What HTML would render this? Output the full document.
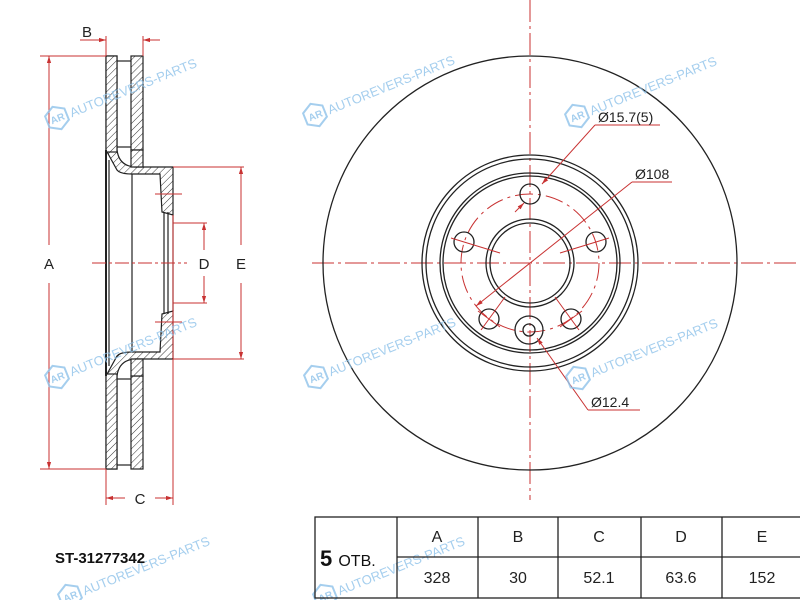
<!DOCTYPE html>
<html><head><meta charset="utf-8"><style>
html,body{margin:0;padding:0;background:#fff;width:800px;height:600px;overflow:hidden;}
svg{display:block;font-family:"Liberation Sans",Arial,sans-serif;overflow:hidden;}
</style></head><body>
<svg width="800" height="600" viewBox="0 0 800 600" xmlns="http://www.w3.org/2000/svg">
<defs>
<pattern id="h" width="5" height="5" patternUnits="userSpaceOnUse" patternTransform="rotate(45)">
<rect width="5" height="5" fill="#fff"/><line x1="0" y1="0" x2="0" y2="5" stroke="#333" stroke-width="1"/>
</pattern>
<marker id="ar" viewBox="0 0 10 10" refX="10" refY="5" markerWidth="7" markerHeight="7" orient="auto-start-reverse">
<path d="M0,2 L10,5 L0,8 z" fill="#c83232"/></marker>
<g id="wm" fill="none" stroke="#8fc3ea" stroke-width="2" opacity="0.8">
<polygon points="0,-12 10.4,-6 10.4,6 0,12 -10.4,6 -10.4,-6"/>
<text x="-7" y="4" font-size="10" fill="#8fc3ea" stroke="none" font-weight="bold">AR</text>
<text x="14" y="5" font-size="13" fill="#8fc3ea" stroke="none">AUTOREVERS-PARTS</text>
</g>
</defs>

<!-- LEFT SECTION -->
<g stroke="#222" stroke-width="1.2">
<path d="M106,56 L117,56 L117,150 Q119,166 135,167 L173,167 L173,215 L162,212 L160,174 L132,174 Q120,174 117,170 L106,150 Z" fill="url(#h)"/>
<rect x="106" y="56" width="11" height="96" fill="url(#h)"/>
<rect x="131" y="56" width="12" height="94" fill="url(#h)"/>
<path d="M131,150 L143,150 L143,167 L131,167 Z" fill="url(#h)"/>
<path d="M106,469 L117,469 L117,376 Q119,360 135,359 L173,359 L173,311 L162,314 L160,352 L132,352 Q120,352 117,356 L106,376 Z" fill="url(#h)"/>
<rect x="106" y="374" width="11" height="95" fill="url(#h)"/>
<rect x="131" y="376" width="12" height="93" fill="url(#h)"/>
<path d="M131,376 L143,376 L143,359 L131,359 Z" fill="url(#h)"/>
<line x1="117" y1="61" x2="131" y2="61"/><line x1="117" y1="147" x2="131" y2="147"/>
<line x1="117" y1="465" x2="131" y2="465"/><line x1="117" y1="379" x2="131" y2="379"/>
<line x1="106" y1="150" x2="106" y2="376" stroke-width="2"/>
<line x1="109" y1="160" x2="109" y2="366"/>
<line x1="132" y1="174" x2="132" y2="352"/>
<line x1="164" y1="212" x2="164" y2="314"/>
<line x1="168" y1="212" x2="168" y2="314"/>
<line x1="173" y1="215" x2="173" y2="311"/>
</g>
<g stroke="#c83232" stroke-width="1" fill="none">
<line x1="40" y1="56" x2="106" y2="56"/><line x1="40" y1="469" x2="106" y2="469"/>
<line x1="49" y1="56" x2="49" y2="245" marker-start="url(#ar)"/>
<line x1="49" y1="283" x2="49" y2="469" marker-end="url(#ar)"/>
<line x1="106" y1="36" x2="106" y2="56"/><line x1="143" y1="36" x2="143" y2="56"/>
<line x1="80" y1="40" x2="106" y2="40" marker-end="url(#ar)"/>
<line x1="160" y1="40" x2="143" y2="40" marker-end="url(#ar)"/>
<line x1="106" y1="469" x2="106" y2="505"/><line x1="173" y1="215" x2="173" y2="505"/>
<line x1="125" y1="498" x2="106" y2="498" marker-end="url(#ar)"/>
<line x1="155" y1="498" x2="173" y2="498" marker-end="url(#ar)"/>
<line x1="173" y1="223" x2="207" y2="223"/><line x1="173" y1="303" x2="207" y2="303"/>
<line x1="204" y1="250" x2="204" y2="223" marker-end="url(#ar)"/>
<line x1="204" y1="276" x2="204" y2="303" marker-end="url(#ar)"/>
<line x1="173" y1="167" x2="244" y2="167"/><line x1="173" y1="359" x2="244" y2="359"/>
<line x1="241" y1="245" x2="241" y2="167" marker-end="url(#ar)"/>
<line x1="241" y1="283" x2="241" y2="359" marker-end="url(#ar)"/>
<line x1="92" y1="263" x2="187" y2="263" stroke-dasharray="14,3,3,3"/>
<line x1="155" y1="194" x2="182" y2="194"/><line x1="155" y1="322" x2="182" y2="322"/>
</g>
<g font-size="15" fill="#222" text-anchor="middle">
<text x="49" y="269">A</text><text x="87" y="37">B</text><text x="140" y="504">C</text>
<text x="204" y="269">D</text><text x="241" y="269">E</text>
</g>

<!-- RIGHT VIEW -->
<g stroke="#c83232" stroke-width="1" fill="none">
<line x1="312" y1="263" x2="800" y2="263" stroke-dasharray="22,4,3,4"/>
<line x1="530" y1="0" x2="530" y2="500" stroke-dasharray="22,4,3,4"/>
<circle cx="530" cy="263" r="69" stroke-dasharray="18,5,3,5"/>
</g>
<g stroke="#222" stroke-width="1.3" fill="none">
<circle cx="530" cy="263" r="207"/>
<circle cx="530" cy="263" r="108"/><circle cx="530" cy="263" r="104"/>
<circle cx="530" cy="263" r="90"/><circle cx="530" cy="263" r="87"/>
<circle cx="530" cy="263" r="44"/><circle cx="530" cy="263" r="40"/>
<circle cx="530" cy="194" r="10"/>
<circle cx="464" cy="242" r="10"/>
<circle cx="596" cy="242" r="10"/>
<circle cx="489" cy="319" r="10"/>
<circle cx="571" cy="319" r="10"/>
<circle cx="529" cy="330" r="14"/><circle cx="529" cy="330" r="6"/>
</g>
<g stroke="#c83232" stroke-width="1" fill="none">
<line x1="451" y1="238" x2="500" y2="253"/><line x1="609" y1="238" x2="560" y2="253"/>
<line x1="481" y1="330" x2="505" y2="297"/><line x1="579" y1="330" x2="555" y2="297"/>
<line x1="478" y1="311" x2="500" y2="327"/><line x1="560" y1="327" x2="582" y2="311"/>
<line x1="595" y1="125" x2="660" y2="125"/>
<line x1="595" y1="125" x2="542" y2="184" marker-end="url(#ar)"/>
<line x1="632" y1="182" x2="672" y2="182"/>
<line x1="632" y1="182" x2="476" y2="306" marker-end="url(#ar)"/>
<line x1="515" y1="212" x2="524" y2="203" marker-end="url(#ar)"/>
<line x1="588" y1="410" x2="640" y2="410"/>
<line x1="588" y1="410" x2="537" y2="338" marker-end="url(#ar)"/>
</g>
<g font-size="14" fill="#222">
<text x="598" y="122">Ø15.7(5)</text>
<text x="635" y="179">Ø108</text>
<text x="591" y="407">Ø12.4</text>
</g>

<use href="#wm" transform="translate(57,118) rotate(-22)"/>
<use href="#wm" transform="translate(315,115) rotate(-22)"/>
<use href="#wm" transform="translate(577,116) rotate(-22)"/>
<use href="#wm" transform="translate(57,377) rotate(-22)"/>
<use href="#wm" transform="translate(316,377) rotate(-22)"/>
<use href="#wm" transform="translate(578,378) rotate(-22)"/>
<use href="#wm" transform="translate(70,596) rotate(-22)"/>
<use href="#wm" transform="translate(325,596) rotate(-22)"/>

<text x="55" y="563" font-size="15" font-weight="bold" fill="#111">ST-31277342</text>

<g stroke="#222" stroke-width="1.3" fill="none">
<rect x="315" y="517" width="490" height="81"/>
<line x1="397" y1="557" x2="800" y2="557"/>
<line x1="397" y1="517" x2="397" y2="598"/>
<line x1="478" y1="517" x2="478" y2="598"/>
<line x1="558" y1="517" x2="558" y2="598"/>
<line x1="641" y1="517" x2="641" y2="598"/>
<line x1="722" y1="517" x2="722" y2="598"/>
</g>
<text x="320" y="566" font-size="22" font-weight="bold" fill="#111">5 <tspan font-size="16" font-weight="normal">ОТВ.</tspan></text>
<g font-size="16" fill="#222" text-anchor="middle">
<text x="437" y="542">A</text><text x="518" y="542">B</text><text x="599" y="542">C</text><text x="681" y="542">D</text><text x="762" y="542">E</text>
<text x="437" y="583">328</text><text x="518" y="583">30</text><text x="599" y="583">52.1</text><text x="681" y="583">63.6</text><text x="762" y="583">152</text>
</g>
</svg>
</body></html>
